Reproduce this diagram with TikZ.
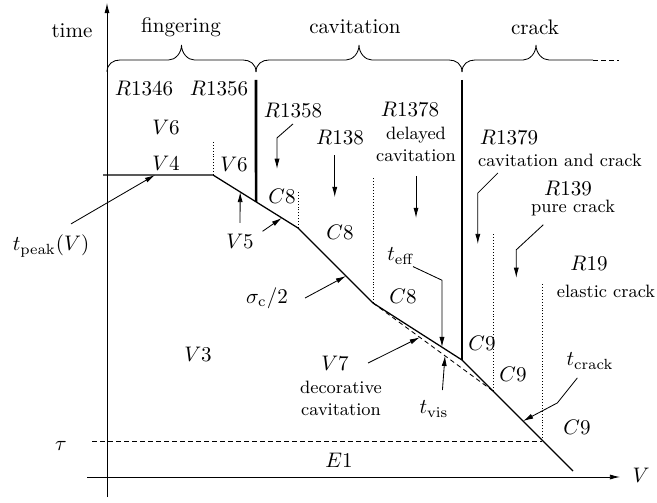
\documentclass[tikz,border=0pt]{standalone}
\usepackage{amsmath}
\usepackage{tikz}
\usetikzlibrary{arrows.meta,calc}

\tikzset{
  pics/phasebrace/.style={code={
    \draw (0,0) .. controls +(0,-8) and +(-7,0) .. ++(13,-12) -- ++(#1-26,0)
      .. controls +(7,0) and +(0,8) .. ++(13,-15)
      .. controls +(0,8) and +(-7,0) .. ++(13,15) -- ++(#1-26,0)
      .. controls +(7,0) and +(0,-8) .. ++(13,12);
  }}
}

\begin{document}
\begin{tikzpicture}[
  x=0.475pt, y=-0.475pt,
  >={Latex[length=1.7mm,width=0.85mm]},
  lab/.style={inner sep=1pt},
  note/.style={font=\fontsize{8.5}{10.5}\selectfont, align=center, inner sep=0.5pt},
  curve/.style={line width=0.6pt},
  wall/.style={line width=1.2pt},
  limit/.style={densely dotted},
  trace/.style={dash pattern=on 2.2pt off 1.6pt},
  pointer/.style={->}]
\useasboundingbox (0,0) rectangle (657,502);
\coordinate (ybot) at (107,497);
\coordinate (ytop) at (107,3);
\coordinate (xl) at (87,477);
\coordinate (xr) at (620,477);
\draw[->] (ybot) -- (ytop);
\draw[->] (xl) -- (xr);
\node[lab] (timelab) at (72,31) {time};
\node[lab] (vlab) at (641,475) {$V$};

\coordinate (b0) at (107,72);
\coordinate (b1) at (256,72);
\coordinate (b2) at (462,72);
\pic at (b0) {phasebrace=74.5};
\pic at (b1) {phasebrace=103};
\draw (b2) .. controls +(0,-8) and +(-7,0) .. ++(13,-12) -- ++(48,0)
  .. controls +(7,0) and +(0,8) .. ++(13,-15)
  .. controls +(0,8) and +(-7,0) .. ++(13,15) -- ++(44,0) coordinate (b3);
\draw[trace] (b3) -- ++(26,0);
\node[lab] (finger) at (181,27) {fingering};
\node[lab] (cavit) at (355,27) {cavitation};
\node[lab] (crack) at (535,27) {crack};

\coordinate (c0) at (103,175);
\coordinate (c1) at (213,175);
\coordinate (c2) at (298,228);
\coordinate (c3) at (373,303);
\coordinate (c4) at (462,360);
\coordinate (c5) at (573,471);
\coordinate (c6) at (493,391);
\draw[curve] (c0) -- (c1) -- (c2) -- (c3) -- (c4) -- (c5);
\draw[trace] (c3) -- (c6);
\coordinate (w1) at (256,80);
\coordinate (w1b) at ($(c1)!0.506!(c2)$);
\coordinate (w2) at (462,80);
\draw[wall] (w1) -- (w1b);
\draw[wall] (w2) -- (c4);
\coordinate (tl) at (92,441);
\coordinate (tr) at (542,441);
\draw[trace] (tl) -- (tr);
\draw[limit] (c1) -- ++(0,-35);
\draw[limit] (c2) -- ++(0,-36);
\draw[limit] (c3) -- ++(0,-125);
\draw[limit] (c6) -- ++(0,-159);
\draw[limit] (tr) -- ++(0,-159);

\node[lab] (r1346) at (144,88) {$R1346$};
\node[lab] (r1356) at (219,88) {$R1356$};
\node[lab] (v6a) at (166,127) {$V6$};
\node[lab] (v4) at (166,163) {$V4$};
\node[lab] (v6b) at (234,164) {$V6$};
\node[lab] (r1358) at (293,110) {$R1358$};
\node[lab] (c8a) at (282,196) {$C8$};
\node[lab] (r138) at (340,137) {$R138$};
\node[lab] (c8b) at (340,232) {$C8$};
\node[lab] (r1378) at (410,109) {$R1378$};
\node[note] (r1378note) at (416,144.5) {delayed\\cavitation};
\node[lab] (teff) at (401,256) {$t_{\mathrm{eff}}$};
\node[lab] (c8c) at (403,296) {$C8$};
\node[lab] (r1379) at (509,137) {$R1379$};
\node[note] (r1379note) at (560,160) {cavitation and crack};
\node[lab] (r139) at (568,188.5) {$R139$};
\node[note] (r139note) at (573,208) {pure crack};
\node[lab] (r19) at (589,263) {$R19$};
\node[note] (r19note) at (606,291) {elastic crack};
\node[lab] (c9a) at (482,343) {$C9$};
\node[lab] (c9b) at (513,374) {$C9$};
\node[lab] (c9c) at (577,427) {$C9$};
\node[lab] (tcrack) at (590,361) {$t_{\mathrm{crack}}$};
\node[lab] (tpeak) at (51,246) {$t_{\mathrm{peak}}(V)$};
\node[lab] (v5) at (240,241) {$V5$};
\node[lab] (sigma) at (267,298) {$\sigma_{\mathrm{c}}/2$};
\node[lab] (v3) at (198,354) {$V3$};
\node[lab] (v7) at (335,363) {$V7$};
\node[note] (v7note) at (341,398) {decorative\\cavitation};
\node[lab] (tvis) at (434,409) {$t_{\mathrm{vis}}$};
\node[lab] (tau) at (61,446) {$\tau$};
\node[lab] (e1) at (339,460) {$E1$};

\coordinate (tphit) at ($(c0)!0.473!(c1)$);
\coordinate (v5hit) at ($(c1)!0.32!(c2)$);
\coordinate (v5hitb) at ($(c1)!0.81!(c2)$);
\coordinate (sghit) at ($(c2)!0.64!(c3)$);
\coordinate (teffhit) at ($(c3)!0.775!(c4)$);
\coordinate (v7hit) at ($(c3)!0.39!(c6)$);
\coordinate (tvishit) at ($(c3)!0.6!(c6)$);
\coordinate (tcrackhit) at ($(c4)!0.55!(c5)$);
\draw[pointer] ([xshift=9.5pt,yshift=10.5pt]tpeak.center) -- (tphit);
\draw[pointer] ([yshift=4pt]v5.north) -- (v5hit);
\draw[pointer] ([xshift=3pt]v5.north east) -- (v5hitb);
\draw[pointer] ([xshift=7pt]sigma.east) -- (sghit);
\draw[pointer] ([yshift=-2pt]r1358.south) -- ++(-16,14) -- ++(0,31);
\draw[pointer] ([xshift=-2.5pt,yshift=-4pt]r138.south) -- ++(0,42);
\draw[pointer] ([yshift=-6pt]r1378note.south) -- ++(0,42);
\draw[pointer] ([xshift=-2pt]teff.south east) -- ([yshift=31.8pt]teffhit) -- (teffhit);
\draw[pointer] ([xshift=8pt]v7.east) -- (v7hit);
\draw[pointer] ([xshift=4pt,yshift=4pt]tvis.north) -- (tvishit);
\draw[pointer] ([xshift=10pt,yshift=-2.5pt]r1379note.south west) -- ++(-20,20) -- ++(0,51);
\draw[pointer] ([xshift=6.5pt,yshift=-3.5pt]r139note.south west) -- ++(-27,25) -- ++(0,28);
\draw[pointer] ([xshift=-6pt,yshift=-3pt]tcrack.south) -- ++(-20,25) -- (tcrackhit);
\end{tikzpicture}
\end{document}
